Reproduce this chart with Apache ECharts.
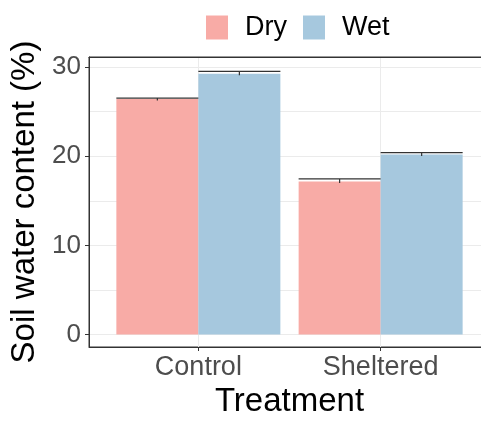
<!DOCTYPE html>
<html>
<head>
<meta charset="utf-8">
<script src="https://cdn.jsdelivr.net/npm/echarts@6/dist/echarts.min.js"></script>
<style>
html,body{margin:0;padding:0;background:#fff;}
#chart{width:481px;height:421px;}
</style>
</head>
<body>
<div id="chart"></div>
<script>
// ---- data ----
var categories = ['Control', 'Sheltered'];
var dryMean = [26.4, 17.15];
var wetMean = [29.25, 20.18];
var drySe = [0.12, 0.3];
var wetSe = [0.26, 0.22];
var yTicks = [0, 10, 20, 30];
var seriesNames = ['Dry', 'Wet'];

var FONT = "'Liberation Sans', Arial, sans-serif";
var DRY_COLOR = '#F8ABA6';
var WET_COLOR = '#A6C8DE';

var catPos = categories.map(function (c, i) { return i + 1; });

function barData(vals) {
  return vals.map(function (v, i) { return [catPos[i], v]; });
}
function errData(vals, se, side) {
  return vals.map(function (v, i) { return [catPos[i], v, v + se[i], side]; });
}

var HALF = 0.225; // half of dodged bar width in category units

function renderErr(params, api) {
  var x = api.value(0), m = api.value(1), hi = api.value(2), side = api.value(3);
  var cx = x + side * HALF;
  var pL = api.coord([cx - HALF, hi]);
  var pR = api.coord([cx + HALF, hi]);
  var pC = api.coord([cx, hi]);
  var pM = api.coord([cx, m]);
  var style = { stroke: '#333', lineWidth: 1.2 };
  return {
    type: 'group',
    children: [
      { type: 'line', shape: { x1: pL[0], y1: pL[1], x2: pR[0], y2: pR[1] }, style: style },
      { type: 'line', shape: { x1: pC[0], y1: pC[1], x2: pM[0], y2: pM[1] + 1.5 }, style: style }
    ]
  };
}

var chart = echarts.init(document.getElementById('chart'), null, { renderer: 'canvas' });
chart.setOption({
  animation: false,
  backgroundColor: '#fff',
  textStyle: { fontFamily: FONT },
  legend: {
    data: seriesNames,
    left: 201,
    top: 9,
    icon: 'rect',
    itemWidth: 22,
    itemHeight: 24,
    itemGap: 16,
    textStyle: { fontFamily: FONT, fontSize: 27, color: '#000', padding: [0, 0, 0, 12] }
  },
  grid: {
    left: 89, top: 57, width: 401, height: 290,
    containLabel: false,
    outerBoundsMode: 'none',
    show: true,
    borderColor: '#333',
    borderWidth: 1,
    backgroundColor: 'transparent'
  },
  xAxis: [
    {
      type: 'value',
      min: 0.4,
      max: 2.6,
      splitNumber: 2,
      name: 'Treatment',
      nameLocation: 'middle',
      nameGap: 37,
      nameTextStyle: { fontFamily: FONT, fontSize: 33, color: '#000' },
      axisLine: { show: true, onZero: false, lineStyle: { color: '#333', width: 1 } },
      axisTick: { show: true, length: 4, customValues: catPos, lineStyle: { color: '#333' } },
      axisLabel: {
        customValues: catPos,
        margin: 7,
        fontFamily: FONT, fontSize: 27, color: '#4D4D4D',
        formatter: function (v) { return categories[Math.round(v) - 1] || ''; }
      },
      splitLine: { show: true, lineStyle: { color: '#EBEBEB', width: 1 } }
    },
    {
      type: 'value',
      position: 'top',
      min: 0.4,
      max: 2.6,
      axisLine: { show: true, onZero: false, lineStyle: { color: '#333', width: 1 } },
      axisTick: { show: false },
      axisLabel: { show: false },
      splitLine: { show: false }
    }
  ],
  yAxis: [
    {
      type: 'value',
      min: -1.39,
      max: 31.12,
      splitNumber: 5,
      name: 'Soil water content (%)',
      nameLocation: 'middle',
      nameGap: 39,
      nameTextStyle: { fontFamily: FONT, fontSize: 33, color: '#000' },
      axisLine: { show: true, onZero: false, lineStyle: { color: '#333', width: 1 } },
      axisTick: { show: true, length: 4, customValues: yTicks, lineStyle: { color: '#333' } },
      axisLabel: {
        customValues: yTicks,
        margin: 8,
        fontFamily: FONT, fontSize: 26, color: '#4D4D4D'
      },
      splitLine: { show: false }
    },
    {
      type: 'value',
      position: 'left',
      min: -1.39,
      max: 31.12,
      splitNumber: 5,
      axisLine: { show: false, onZero: false },
      axisTick: { show: false },
      axisLabel: { show: false },
      splitLine: { show: true, lineStyle: { color: '#EBEBEB', width: 1 } }
    }
  ],
  series: [
    {
      name: 'Dry', type: 'bar', data: barData(dryMean),
      barWidth: 82, barGap: '0%',
      itemStyle: { color: DRY_COLOR }
    },
    {
      name: 'Wet', type: 'bar', data: barData(wetMean),
      barWidth: 82, barGap: '0%',
      itemStyle: { color: WET_COLOR }
    },
    {
      name: 'DryErr', type: 'custom', renderItem: renderErr,
      data: errData(dryMean, drySe, -1), z: 5, silent: true
    },
    {
      name: 'WetErr', type: 'custom', renderItem: renderErr,
      data: errData(wetMean, wetSe, 1), z: 5, silent: true
    }
  ]
});
</script>
</body>
</html>
